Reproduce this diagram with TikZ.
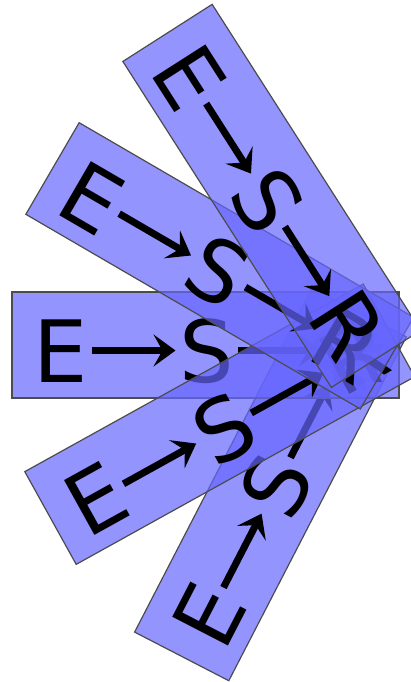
\documentclass[tikz,border=0pt]{standalone}
\usepackage{fontspec}
\setsansfont{DejaVu Sans}
\usetikzlibrary{arrows.meta}
\begin{document}
\begin{tikzpicture}[
    x=1pt, y=-1pt,
    strip/.style={draw=black!70, line width=1.2pt, fill=blue!60, fill opacity=0.7},
    letter/.style={anchor=base, inner sep=0pt, text height=63pt, text depth=0pt, font=\fontsize{86}{86}\selectfont\sffamily},
    arrow/.style={-{Stealth[length=22pt, width=32pt, inset=9pt]}, line width=7pt, shorten <=4pt, shorten >=4pt}
]
    \useasboundingbox (0,0) rectangle (411,682);
    % strips: left end x / left end y / angle / name
    \foreach \x/\y/\a/\n in {181.7/656.4/62.7/a, 12/345/0/b, 50.5/518/29/c, 52.5/168.5/-30.2/d, 167.5/32.9/-57.4/e} {
      \begin{scope}[shift={(\x,\y)}, rotate=\a, transform shape]
        \draw[strip] (0,-53) rectangle (387,53);
        \node[letter] (E\n) at (49,37) {E};
        \node[letter] (S\n) at (195,37) {S};
        \node[letter] (R\n) at (343,37) {R};
        \draw[arrow] (E\n) -- (S\n);
        \draw[arrow] (S\n) -- (R\n);
      \end{scope}
    }
\end{tikzpicture}
\end{document}
